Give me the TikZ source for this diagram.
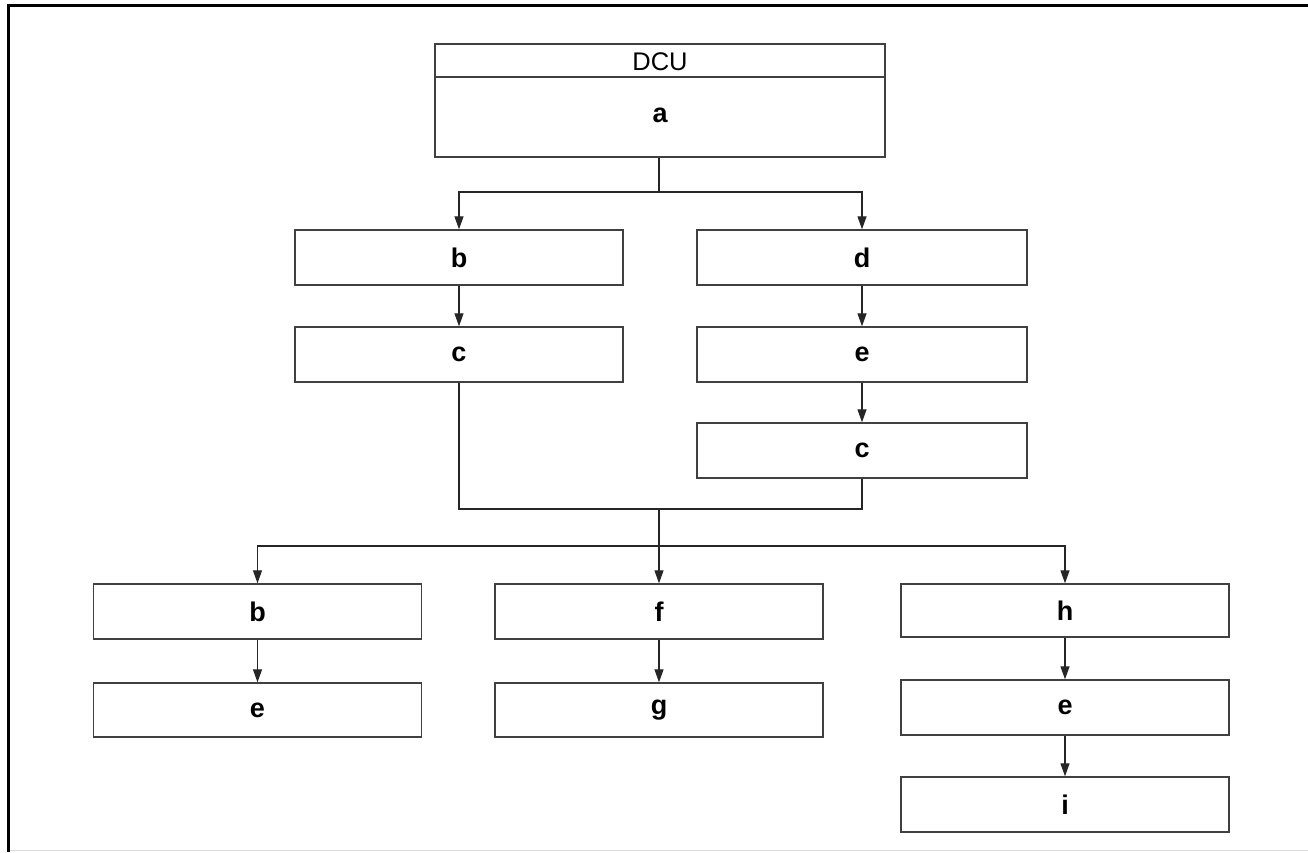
\documentclass[tikz,border=0pt]{standalone}
\usepackage{fontspec}
\setmainfont{Liberation Sans}
\usetikzlibrary{arrows.meta}
\begin{document}
\begin{tikzpicture}[x=1pt,y=-1pt,
  line join=miter,
  box/.style={draw=black!75, line width=1.4pt, minimum height=55pt, minimum width=328pt, inner sep=0pt,
    font=\fontsize{27}{30}\selectfont\bfseries},
  conn/.style={draw=black!85, line width=1.2pt},
  arr/.style={conn, -{Triangle[length=13pt,width=9pt]}}]
\useasboundingbox (0,0) rectangle (1308,852);
% frame
\draw[line width=3pt] (8,852) -- (8,5) -- (1308,5);
\draw[black!15, line width=1.5pt] (9.5,850.5) -- (1308,850.5);
% DCU box
\node[box, minimum width=450pt, minimum height=113pt] (dcu) at (660,100.5) {};
\draw[draw=black!75, line width=1.4pt] (dcu.west |- 0,77) -- (dcu.east |- 0,77);
\node[font=\fontsize{25.5}{28}\selectfont, inner sep=0pt] (dcut) at (660,62) {DCU};
\node[font=\fontsize{27}{30}\selectfont\bfseries, inner sep=0pt] (dcua) at (660,115) {a};
% upper boxes
\node[box] (b1) at (459,257.5) {b};
\node[box, minimum width=330pt] (d) at (862,257.5) {d};
\node[box] (c1) at (459,354.5) {c};
\node[box, minimum width=330pt] (e1) at (862,354.5) {e};
\node[box, minimum width=330pt] (c2) at (862,450.5) {c};
% lower boxes
\node[box] (b2) at (257.5,611.5) {b};
\node[box, minimum height=54pt] (e2) at (257.5,710) {e};
\node[box] (f) at (659,611.5) {f};
\node[box, minimum height=54pt] (g) at (659,710) {g};
\node[box, minimum height=53pt] (h) at (1065,610.5) {h};
\node[box] (e3) at (1065,707.5) {e};
\node[box] (i) at (1065,804.5) {i};
% connectors
\coordinate (j1) at (659,192);
\coordinate (j2) at (659,509);
\coordinate (j3) at (659,546);
\draw[conn] (dcu.south -| j1) -- (j1);
\draw[arr] (j1) -| (b1.north);
\draw[arr] (j1) -| (d.north);
\draw[arr] (b1) -- (c1);
\draw[arr] (d) -- (e1);
\draw[arr] (e1) -- (c2);
\draw[conn] (c1.south) |- (j2);
\draw[conn] (c2.south) |- (j2);
\draw[conn] (j2) -- (j3);
\draw[arr] (j3) -| (b2.north);
\draw[arr] (j3) -- (f.north);
\draw[arr] (j3) -| (h.north);
\draw[arr] (b2) -- (e2);
\draw[arr] (f) -- (g);
\draw[arr] (h) -- (e3);
\draw[arr] (e3) -- (i);
\end{tikzpicture}
\end{document}
